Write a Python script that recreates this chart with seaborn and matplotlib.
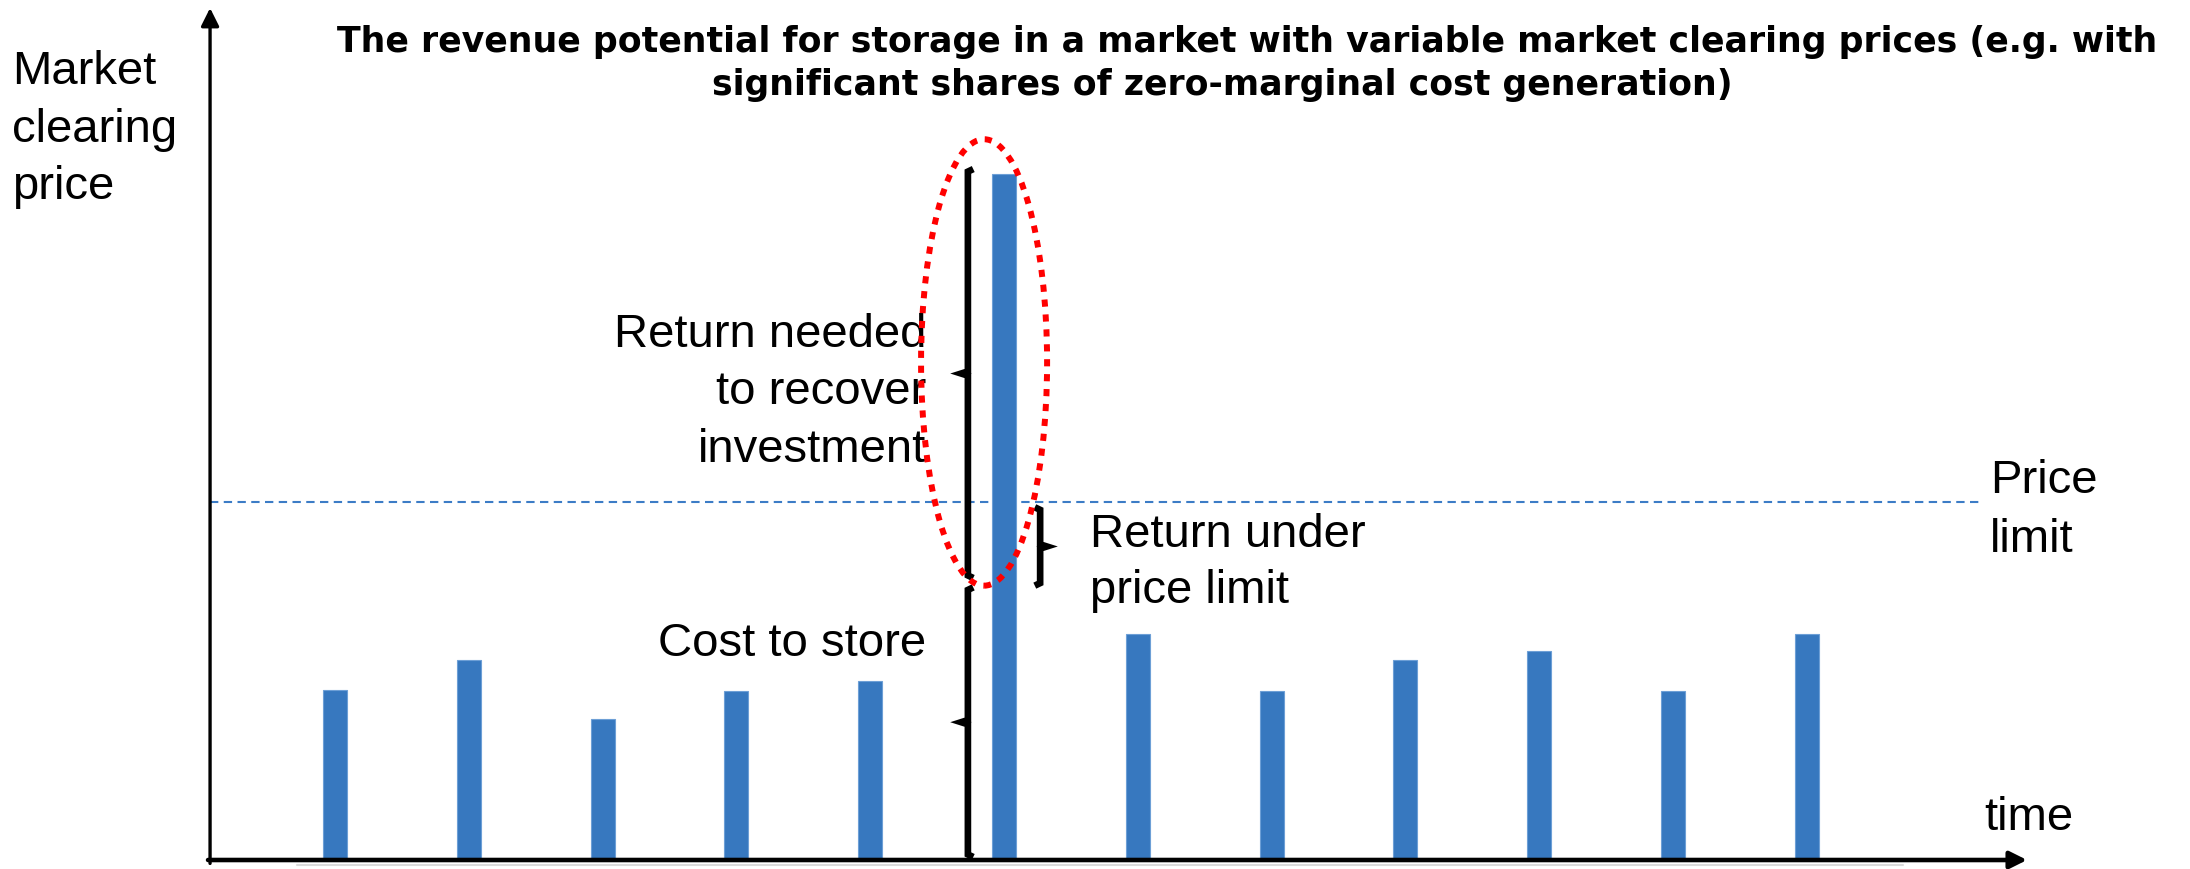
import numpy as np
import pandas as pd
import matplotlib.pyplot as plt
from matplotlib.patches import Ellipse
import seaborn as sns

sns.set_theme(style='white')
plt.rcParams['font.family'] = ['Liberation Sans', 'DejaVu Sans']

# Chart data
periods = list(range(1, 13))
prices = [20, 23.5, 16.5, 19.8, 21, 80.5, 26.5, 19.8, 23.5, 24.5, 19.8, 26.5]
price_limit = 42
cost_to_store = 32.5

title_lines = ['The revenue potential for storage in a market with variable market clearing prices (e.g. with',
               'significant shares of zero-marginal cost generation)']
y_label = ['Market', 'clearing', 'price']
x_label = 'time'
limit_label = ['Price', 'limit']
invest_label = ['Return needed', 'to recover', 'investment']
cost_label = 'Cost to store'
under_label = ['Return under', 'price limit']

bar_color = '#3778bf'
limit_color = '#3c7cc6'
W, H = 2190, 870

df = pd.DataFrame({'period': periods, 'price': prices})
peak = int(np.argmax(prices))

fig = plt.figure(figsize=(W / 100, H / 100), dpi=100)
ax = fig.add_axes([0, 0, 1, 1])

sns.barplot(data=df, x='period', y='price', color=bar_color, saturation=1,
            width=0.18, errorbar=None, edgecolor='#6d9fd6', linewidth=0.8,
            zorder=2, ax=ax)

ax.set_xlim(-2.504, 13.864)
ax.set_ylim(-1.056, 101.06)
ax.set_axis_off()

# axes drawn as arrows
x0 = -0.934
head = '-|>,head_length=0.6,head_width=0.3'
ax.annotate('', xy=(x0, 100.0), xytext=(x0, -0.4),
            arrowprops=dict(arrowstyle=head, mutation_scale=18, lw=2.4,
                            color='black', shrinkA=0, shrinkB=0), zorder=5)
ax.annotate('', xy=(12.646, 0), xytext=(x0 - 0.015, 0),
            arrowprops=dict(arrowstyle=head, mutation_scale=17, lw=3.3,
                            color='black', shrinkA=0, shrinkB=0), zorder=5)
# faint shadow under the time axis
ax.plot([-0.284, 11.72], [-0.55, -0.55], color='#dadada', lw=1.5, zorder=1)

# price limit
ax.hlines(price_limit, x0, 12.29, colors=limit_color, linestyles=(0, (4, 2.6)),
          lw=1.5, zorder=1)


def brace(x, y0, y1, side):
    # side=-1 points left, side=1 points right
    hook, tick = 0.04, 0.05
    mid = (y0 + y1) / 2
    xs = [x - side * hook, x, x, x + side * tick, x, x, x - side * hook]
    ys = [y0, y0 + 0.3, mid - 0.25, mid, mid + 0.25, y1 - 0.3, y1]
    ax.plot(xs, ys, color='black', lw=4.8, solid_joinstyle='miter',
            solid_capstyle='butt', zorder=4)


brace(peak - 0.27, 0.35, cost_to_store - 0.5, -1)
brace(peak - 0.27, cost_to_store + 0.6, prices[peak] + 0.6, -1)
brace(peak + 0.27, cost_to_store - 0.3, price_limit - 0.6, 1)

# red dotted highlight around the price spike
ax.add_patch(Ellipse((peak - 0.149, 58.4), width=0.942, height=52.4, fill=False,
                     edgecolor='#ff0000', lw=4.3, linestyle=(0, (1.2, 1.3)),
                     zorder=10))


def put(px, py, s, **kw):
    ax.text(px / W, 1 - py / H, s, transform=ax.transAxes, va='baseline',
            color='black', **kw)


fs = 34
for i, s in enumerate(y_label):
    put(12, 84 + 57.5 * i, s, fontsize=fs)
for i, s in enumerate(invest_label):
    put(926, 347 + 57.5 * i, s, fontsize=fs, ha='right')
put(926, 656, cost_label, fontsize=fs, ha='right')
for i, s in enumerate(under_label):
    put(1090, 547 + 56 * i, s, fontsize=fs)
for i, s in enumerate(limit_label):
    put(1990, 493 + 59 * i, s, fontsize=fs)
put(1984, 830, x_label, fontsize=fs)

put(1247, 52, title_lines[0], fontsize=25, fontweight='bold', ha='center',
    family='DejaVu Sans')
put(1222, 95, title_lines[1], fontsize=25, fontweight='bold', ha='center',
    family='DejaVu Sans')

fig.savefig('out.png', dpi=100, facecolor='white')
